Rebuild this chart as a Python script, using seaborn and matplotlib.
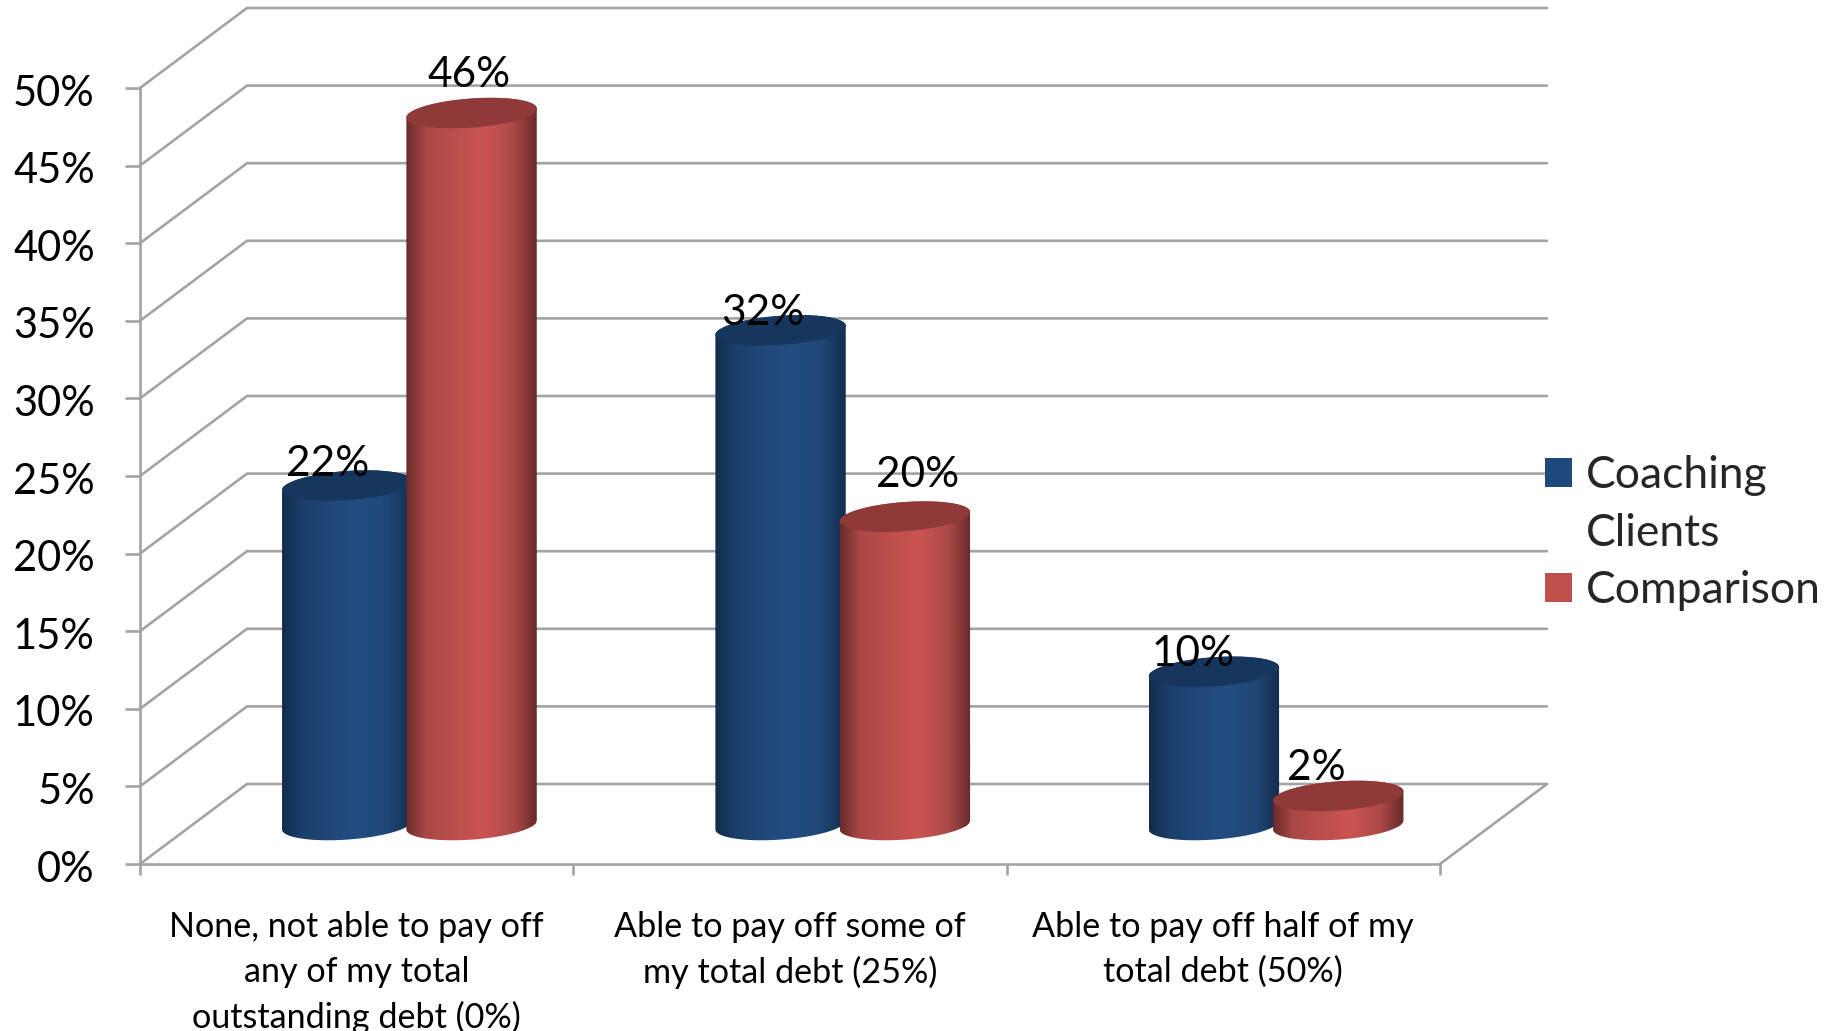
import numpy as np
import pandas as pd
import matplotlib
matplotlib.use("Agg")
import matplotlib.pyplot as plt
from matplotlib.colors import LinearSegmentedColormap
from matplotlib.patches import Patch, PathPatch, Polygon
from matplotlib.path import Path
from matplotlib.transforms import Affine2D
import seaborn as sns

# Survey results, percent of respondents
categories = [
    "None, not able to pay off\nany of my total\noutstanding debt (0%)",
    "Able to pay off some of\nmy total debt (25%)",
    "Able to pay off half of my\ntotal debt (50%)",
]
series_names = ["Coaching Clients", "Comparison"]
coaching_values = [22, 32, 10]
comparison_values = [46, 20, 2]
y_ticks = list(range(0, 55, 5))

# Styling and 3D-look geometry, in output pixels at 100 dpi
W, H = 1827, 1031
PLOT_L, PLOT_R, PLOT_T, PLOT_B = 140, 1440, 88, 864
BACK_DX, BACK_DY = 107, 80
MID_DX, MID_DY = 51, 37
BASE_LIFT = 2
SERIES_SHIFT = [3.5, 0]
CAP_B, CAP_SHEAR = 14.6, 4.5
GRID = "#a3a3a3"
GRID_LW = 1.9
FONT = "Lato"
label_nudges = {
    (0, 0): (-20, 22), (0, 1): (-18, 17), (0, 2): (-21, 18),
    (1, 0): (-3, 38), (1, 1): (13, 42), (1, 2): (-22, 28),
}
shades = {
    0: dict(base="#1f497d", cap="#17365d",
            stops=["#122c4b", "#1b3f6a", "#21497b", "#234d80", "#1f4675", "#132d4d"]),
    1: dict(base="#c0504d", cap="#8f3a38",
            stops=["#692b29", "#a94846", "#bd4f4c", "#cb5452", "#ac4a48", "#672a28"]),
}

sns.set_theme(style="white")
plt.rcParams["font.family"] = [FONT, "DejaVu Sans"]

df = pd.DataFrame({
    "category": categories * 2,
    "series": [series_names[0]] * 3 + [series_names[1]] * 3,
    "value": coaching_values + comparison_values,
})

fig = plt.figure(figsize=(W / 100, H / 100), dpi=100, facecolor="white")
ax = fig.add_axes([PLOT_L / W, 1 - PLOT_B / H, (PLOT_R - PLOT_L) / W, (PLOT_B - PLOT_T) / H])

sns.barplot(
    data=df, x="category", y="value", hue="series", order=categories,
    palette=[shades[0]["base"], shades[1]["base"]], width=0.59, gap=0,
    saturation=1, legend=False, ax=ax,
)

ax.set_xlim(-0.5, 2.5)
ax.set_ylim(0, 50)
px_x = 3 / (PLOT_R - PLOT_L)
px_y = 50 / (PLOT_B - PLOT_T)

# Floor, back wall and side wall lines
back_x, back_y = BACK_DX * px_x, BACK_DY * px_y
for v in y_ticks:
    ax.plot([-0.5, -0.5 + back_x, 2.5 + back_x], [v, v + back_y, v + back_y],
            color=GRID, lw=GRID_LW, clip_on=False, zorder=0.5, solid_joinstyle="miter")
ax.plot([2.5, 2.5 + back_x], [0, back_y], color=GRID, lw=GRID_LW, clip_on=False, zorder=0.5)

# Cylinders: each seaborn bar is moved to mid depth and wrapped in a shaded body and cap
t_low = np.linspace(np.pi, 2 * np.pi, 90)
t_top = np.linspace(0, np.pi, 90)
t_all = np.linspace(0, 2 * np.pi, 180)

for s, container in enumerate(ax.containers):
    mid = ax.transData + Affine2D().translate(MID_DX + SERIES_SHIFT[s], MID_DY)
    cmap = LinearSegmentedColormap.from_list(
        f"shade{s}", list(zip([0, 0.15, 0.4, 0.6, 0.82, 1], shades[s]["stops"])))
    gradient = cmap(np.linspace(0, 1, 256))[None, :, :]
    for i, bar in enumerate(container):
        cx = bar.get_x() + bar.get_width() / 2
        a = bar.get_width() / 2 * 1.02
        v = bar.get_height()
        b, sh = CAP_B * px_y, CAP_SHEAR * px_y
        base = BASE_LIFT * px_y

        xs = np.r_[cx + a * np.cos(t_low), cx + a * np.cos(t_top)]
        ys = np.r_[base + sh * np.cos(t_low) + b * np.sin(t_low),
                   v + sh * np.cos(t_top) + b * np.sin(t_top)]
        outline = Path(np.c_[xs, ys])

        # The flat bar stays underneath, trimmed to the cylinder's outline
        bar.set_transform(mid)
        bar.set_linewidth(0)
        bar.set_zorder(2 + s + i * 3)
        bar.set_clip_path(outline, transform=mid)

        image = ax.imshow(gradient, extent=(cx - a, cx + a, -2.0, v + 2.0), aspect="auto",
                          interpolation="bilinear", zorder=2.5 + s + i * 3)
        image.set_transform(mid)
        image.set_clip_path(outline, transform=mid)

        cap = Polygon(np.c_[cx + a * np.cos(t_all),
                            v + sh * np.cos(t_all) + b * np.sin(t_all)],
                      closed=True, facecolor=shades[s]["cap"], edgecolor="none",
                      transform=mid, zorder=2.7 + s + i * 3)
        ax.add_patch(cap)

        nudge = label_nudges[(s, i)]
        ax.annotate(f"{v:.0f}%", xy=(cx, v), xycoords=mid, xytext=nudge,
                    textcoords="offset pixels", ha="center", va="center",
                    fontsize=30.5, color="black", zorder=30, annotation_clip=False)

ax.set_xlim(-0.5, 2.5)
ax.set_ylim(0, 50)

# Axes
sns.despine(ax=ax, top=True, right=True)
for side in ("left", "bottom"):
    ax.spines[side].set_color(GRID)
    ax.spines[side].set_linewidth(GRID_LW)
ax.set_xlabel("")
ax.set_ylabel("")
ax.set_yticks(y_ticks)
ax.set_yticklabels([f"{v}%" for v in y_ticks], fontsize=30, color="black")
ax.tick_params(axis="y", length=10.5, width=GRID_LW, color=GRID, left=True, pad=22)
ax.set_xticks([-0.5, 0.5, 1.5, 2.5])
ax.set_xticklabels([])
ax.set_xticks([0, 1, 2], minor=True)
ax.set_xticklabels(categories, minor=True, fontsize=24.6, color="black", linespacing=1.5)
ax.tick_params(axis="x", which="major", length=8, width=GRID_LW, color=GRID, bottom=True)
ax.tick_params(axis="x", which="minor", length=0, bottom=False, pad=33.5)
for label in ax.get_yticklabels():
    label.set_transform(label.get_transform() + Affine2D().translate(0, -2))

# Legend, keeping the wrapped series name on its own row
legend_handles = [
    Patch(facecolor=shades[0]["base"], edgecolor="none"),
    Patch(facecolor="none", edgecolor="none"),
    Patch(facecolor=shades[1]["base"], edgecolor="none"),
]
legend = fig.legend(
    legend_handles, ["Coaching", "Clients", series_names[1]],
    loc="center left", bbox_to_anchor=(1545 / W, 1 - 533 / H), frameon=False,
    fontsize=32, handlelength=0.61, handleheight=0.61, handletextpad=0.32,
    labelspacing=0.37, borderpad=0, borderaxespad=0,
)
legend.set_zorder(40)

fig.savefig("out.png", dpi=100, facecolor="white")
